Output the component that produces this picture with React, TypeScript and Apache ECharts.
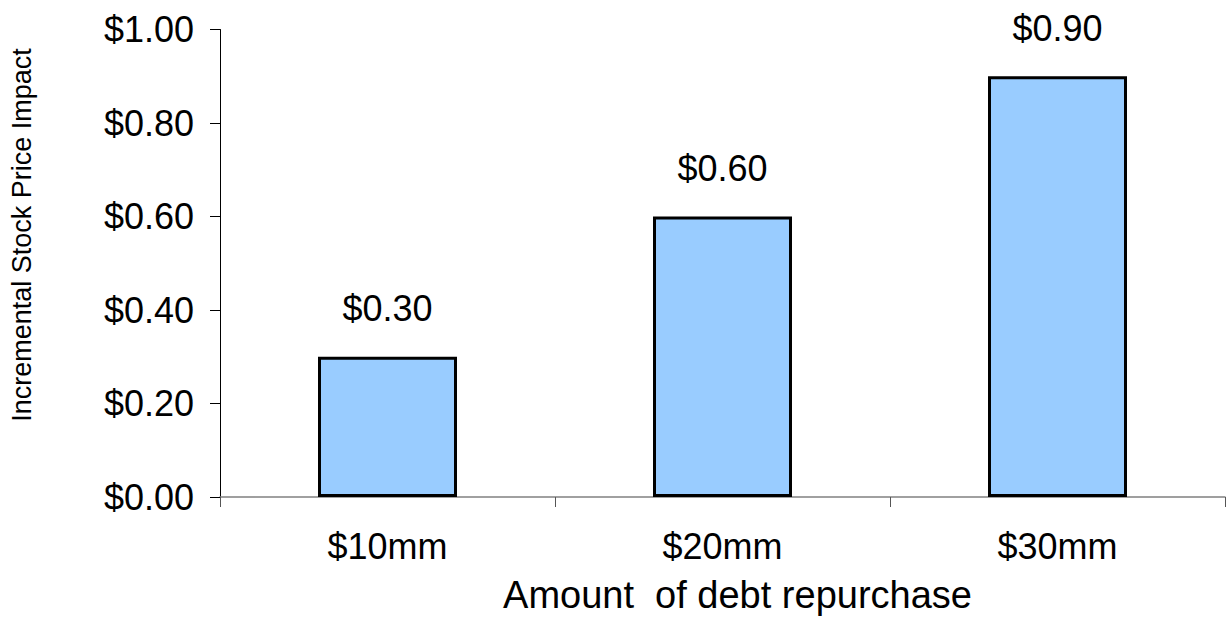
import React, { useEffect, useRef } from "react";
import * as echarts from "echarts";

const categories = ["$10mm", "$20mm", "$30mm"];
const values = [0.3, 0.6, 0.9];
const yTicks = { min: 0, max: 1, interval: 0.2 };
const xTitle = "Amount  of debt repurchase";
const yTitle = "Incremental Stock Price Impact";

const FONT = "'Liberation Sans', Arial, sans-serif";
const money = (v: number) => "$" + v.toFixed(2);

export default function App() {
  const ref = useRef<HTMLDivElement>(null);
  useEffect(() => {
    if (!ref.current) return;
    const chart = echarts.init(ref.current, null, { renderer: "svg" });
    chart.setOption({
      animation: false,
      backgroundColor: "#ffffff",
      grid: { left: 220, right: 1, top: 29.5, bottom: 124, containLabel: false },
      graphic: [
        {
          type: "text",
          x: 22,
          y: 235,
          rotation: Math.PI / 2,
          style: {
            text: yTitle,
            fontFamily: FONT,
            fontSize: 27,
            fill: "#000",
            align: "center",
            verticalAlign: "middle",
          },
        },
      ],
      xAxis: {
        type: "category",
        data: categories,
        name: xTitle,
        nameLocation: "middle",
        nameGap: 79,
        nameTextStyle: {
          fontFamily: FONT,
          fontSize: 38,
          color: "#000",
          padding: [0, 0, 0, 30],
        },
        axisLine: { show: true, lineStyle: { color: "#808080", width: 1.5 } },
        axisTick: { show: true, length: 10, lineStyle: { color: "#555", width: 1 } },
        axisLabel: { fontFamily: FONT, fontSize: 36, color: "#000", margin: 31 },
        splitLine: { show: false },
      },
      yAxis: {
        type: "value",
        min: yTicks.min,
        max: yTicks.max,
        interval: yTicks.interval,
        axisLine: { show: true, lineStyle: { color: "#000", width: 1 } },
        axisTick: { show: true, length: 10, lineStyle: { color: "#000", width: 1 } },
        axisLabel: {
          fontFamily: FONT,
          fontSize: 36,
          color: "#000",
          margin: 26,
          formatter: (v: number) => money(v),
        },
        splitLine: { show: false },
      },
      series: [
        {
          type: "bar",
          data: values,
          barWidth: 139,
          itemStyle: { color: "#99CCFF", borderColor: "#000", borderWidth: 3 },
          label: {
            show: true,
            position: "top",
            distance: 30,
            fontFamily: FONT,
            fontSize: 36,
            color: "#000",
            formatter: (p: any) => money(p.value),
          },
        },
      ],
    });
    return () => chart.dispose();
  }, []);
  return (
    <div
      ref={ref}
      style={{ position: "absolute", left: 0, top: 0, width: 1226, height: 621 }}
    />
  );
}
